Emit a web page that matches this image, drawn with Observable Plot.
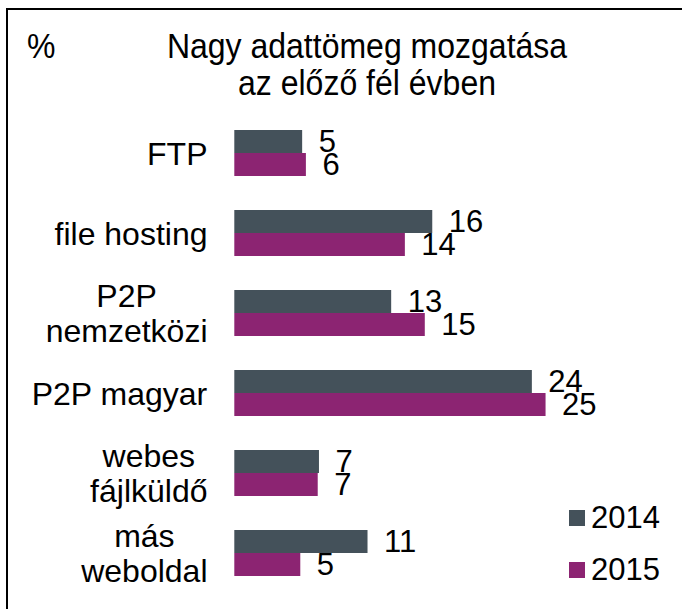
<!DOCTYPE html>
<html>
<head>
<meta charset="utf-8">
<script src="https://cdn.jsdelivr.net/npm/d3@7"></script>
<script src="https://cdn.jsdelivr.net/npm/@observablehq/plot@0.6"></script>
<style>
  html, body { margin: 0; padding: 0; background: #fff; }
  #wrap { position: relative; width: 682px; height: 609px; overflow: hidden; font-family: "Liberation Sans", Arial, sans-serif; color: #000; }
  #wrap svg { position: absolute; left: 0; top: 0; }
  #border { position: absolute; left: 6px; top: 8px; right: -20px; bottom: -20px; border-top: 2px solid #000; border-left: 2px solid #000; }
  .t { position: absolute; font-size: 32px; line-height: 35px; white-space: nowrap; transform: scaleY(1.07); transform-origin: 0 0; }
  #pct { left: 27px; top: 28px; }
  #title { left: 117px; width: 500px; top: 28px; text-align: center; }
  .leg { position: absolute; left: 569px; height: 31px; line-height: 31px; font-size: 31px; white-space: nowrap; }
  .leg .sw { position: absolute; left: 0; top: 8px; width: 16px; height: 16px; }
  .leg .lt { position: absolute; left: 22px; top: 0; }
</style>
</head>
<body>
<div id="wrap">
  <div id="border"></div>
  <div class="t" id="pct">%</div>
  <div class="t" id="title">Nagy adattömeg mozgatása<br>az előző fél évben</div>
</div>
<script>
const categories = ["FTP", "file hosting", "P2P\nnemzetközi", "P2P magyar", "webes\nfájlküldő", "más\nweboldal"];
const years = ["2014", "2015"];
const values2014 = [5.45, 15.9, 12.6, 23.9, 6.8, 10.7];
const values2015 = [5.75, 13.7, 15.3, 25.0, 6.7, 5.3];
const colors = ["#44515a", "#8c2472"];

const rows = categories.flatMap((c, i) => [
  {category: c, year: years[0], value: values2014[i]},
  {category: c, year: years[1], value: values2015[i]}
]);
const fmt = d3.format(".0f");
const CAT_SIZE = 32;
const FONT = CAT_SIZE + "px 'Liberation Sans', Arial, sans-serif";

const ctx = document.createElement("canvas").getContext("2d");
ctx.font = FONT;
const blockWidth = (s) => d3.max(s.split("\n"), l => ctx.measureText(l).width);

const marginLeft = 234.3;
const labelRight = 207;

const chart = Plot.plot({
  width: 682,
  height: 609,
  marginLeft,
  marginRight: 74.2,
  marginTop: 129,
  marginBottom: 31.3,
  x: {domain: [0, 30], axis: null},
  y: {domain: years, padding: 0, axis: null},
  fy: {domain: categories, paddingInner: 0.428, paddingOuter: 0, axis: null},
  color: {domain: years, range: colors},
  style: {fontFamily: "'Liberation Sans', Arial, sans-serif", fontSize: "31px", background: "transparent", color: "#000"},
  marks: [
    Plot.barX(rows, {x: "value", y: "year", fy: "category", fill: "year"}),
    Plot.text(rows, {x: "value", y: "year", fy: "category", text: d => fmt(d.value), textAnchor: "start", dx: 16, fontSize: 31, fill: "#000"}),
    ...categories.map(c => Plot.text([c], {
      fy: d => d,
      frameAnchor: "left",
      text: d => d,
      textAnchor: "middle",
      lineHeight: 1.1,
      fontSize: CAT_SIZE,
      fill: "#000",
      dx: labelRight - blockWidth(c) / 2 - marginLeft
    }))
  ]
});
document.getElementById("wrap").appendChild(chart);

const legendTops = [502, 554];
years.forEach((y, i) => {
  const row = document.createElement("div");
  row.className = "leg";
  row.style.top = legendTops[i] + "px";
  const sw = document.createElement("div");
  sw.className = "sw";
  sw.style.background = colors[i];
  const lt = document.createElement("div");
  lt.className = "lt";
  lt.textContent = y;
  row.appendChild(sw);
  row.appendChild(lt);
  document.getElementById("wrap").appendChild(row);
});
</script>
</body>
</html>
